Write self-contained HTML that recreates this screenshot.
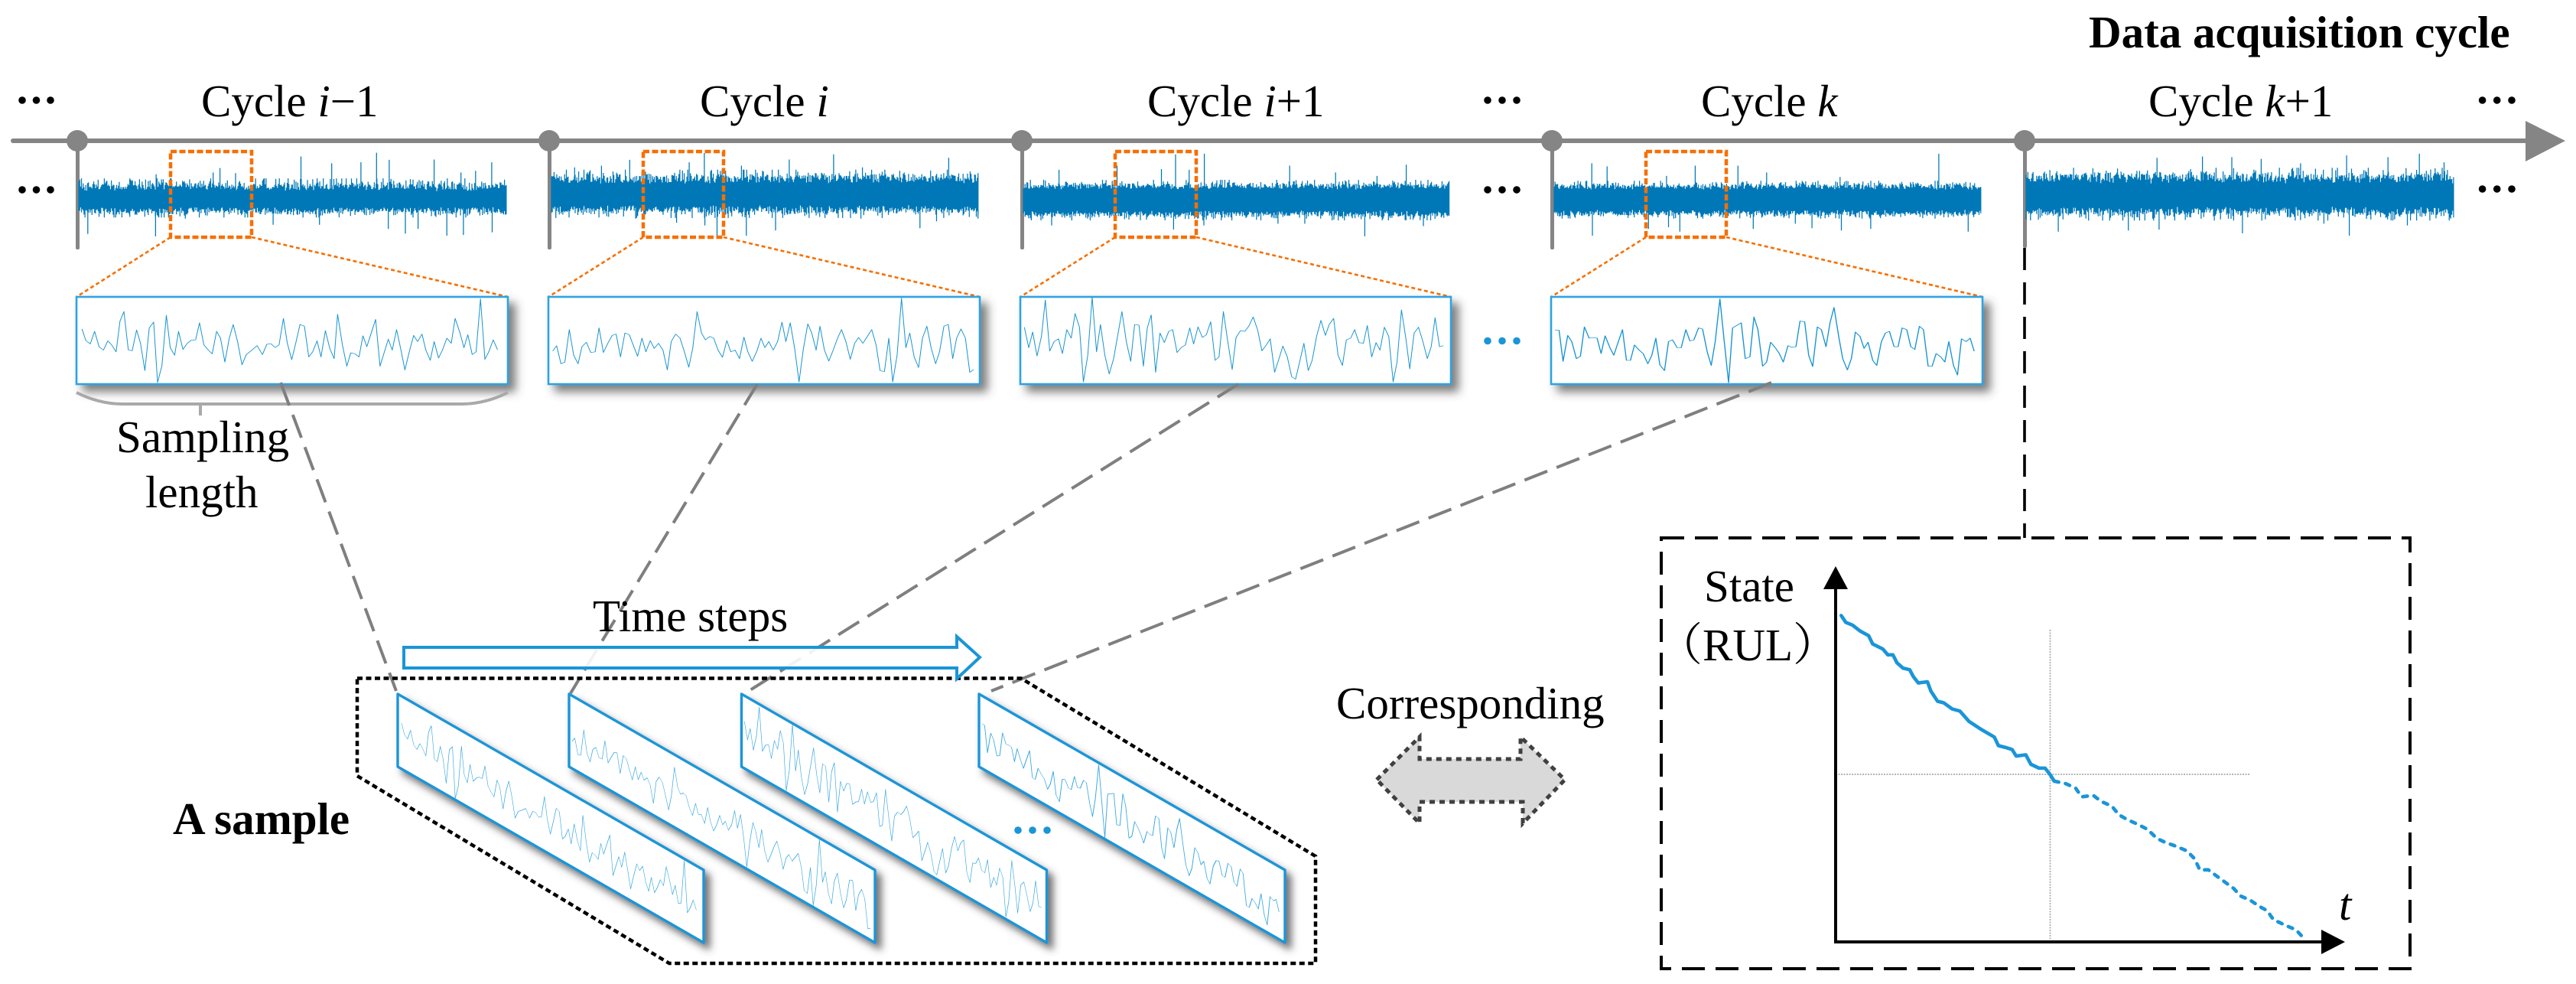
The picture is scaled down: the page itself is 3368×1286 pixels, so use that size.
<!DOCTYPE html>
<html>
<head>
<meta charset="utf-8">
<title>Data acquisition cycle</title>
<style>
html,body{margin:0;padding:0;background:#fff;width:3368px;height:1286px;overflow:hidden}
svg{display:block}
text{font-family:"Liberation Serif","Noto Serif CJK SC",serif;font-size:59px;fill:#000}
.b{font-weight:bold}
.i{font-style:italic}
.tr{fill:none;vector-effect:non-scaling-stroke;stroke:#1a95d3;stroke-width:1.6;stroke-linejoin:round}
.trp{fill:none;vector-effect:non-scaling-stroke;stroke:#3aa8e0;stroke-width:1.5;stroke-linejoin:round}
.or{fill:none;stroke:#f66f00;stroke-width:4.5;stroke-dasharray:8 3.5}
.ot{fill:none;stroke:#f66f00;stroke-width:2.6;stroke-dasharray:5 3.5}
.gd{fill:none;stroke:#7f7f7f;stroke-width:4;stroke-dasharray:32 13}
.bx{fill:#fff;stroke:#2fa3e0;stroke-width:2.6}
.pg{fill:#fff;stroke:#1a95d8;stroke-width:3.4;stroke-linejoin:round}
</style>
</head>
<body>
<svg xmlns="http://www.w3.org/2000/svg" width="3368" height="1286" viewBox="0 0 3368 1286">
<defs>
<filter id="sh" x="-10%" y="-20%" width="125%" height="145%">
<feDropShadow dx="9" dy="9" stdDeviation="6" flood-color="#444" flood-opacity=".7"/>
</filter>
<filter id="shp" x="-10%" y="-10%" width="125%" height="125%">
<feDropShadow dx="7" dy="8" stdDeviation="5" flood-color="#444" flood-opacity=".75"/>
</filter>
<polyline id="t1" points="168,963 176,997 185,1007 194,970 203,1015 212,1025 221,998 229,1010 238,1030 246,940 254,912 263,1024 271,1027 280,966 288,1005 297,1085 306,960 315,943 323,1120 332,1070 341,923 349,1018 358,1040 366,970 375,1023 384,1005 392,996 401,995 409,945 418,1010 427,1025 435,1036 444,970 452,990 461,1060 470,990 478,950 487,1000 496,1068 505,1038 514,1028 527,1012 538,1038 547,1008 555,1006 564,1017 572,1010 581,932 589,1005 598,1053 607,1000 615,950 624,955 633,1045 641,1030 650,998 658,1045 667,968 676,1020 685,1050 692,920 702,1010 711,1072 719,1033 728,1036 736,1045 744,983 752,1015 761,975 770,935 779,1072 788,1030 796,993 804,1025 813,965 822,1025 830,1083 839,1030 848,982 856,1000 865,978 873,1025 882,1055 890,1000 899,1048 907,1025 916,990 925,1005 933,932 943,975 951,1018 959,980 968,1038 976,1030 985,875 994,1052 1002,1030 1011,995 1020,1024"/>
<g id="t2">
<polyline points="1133,1028 1141,1012 1150,1065 1158,1060 1167,965 1176,1040 1185,1065 1193,1015 1202,1002 1211,1032 1220,1030 1228,960 1237,1032 1246,1005 1255,982 1263,978 1272,1045 1281,975 1290,980 1298,1010 1307,1043 1316,990 1324,1030 1333,997 1341,1020 1350,1005 1359,1025 1368,1083 1376,1000 1385,978 1394,990 1403,1030 1412,1075 1420,1020 1429,912 1438,975 1446,995 1455,985 1463,990 1472,1025 1481,1046 1490,997 1498,1030 1507,1025 1516,1050 1525,987 1533,1030 1542,1058 1551,1030 1560,990 1568,1018"/>
<polyline transform="translate(1568,0)" points="0,1018 8,1000 17,1025 26,1000 35,943 43,1000 52,945 61,1020 70,1118 79,1020 88,948 96,975 105,1025 113,955 122,1025 131,1057 140,1025 149,990 157,965 166,1000 175,1052 184,1005 192,988 201,1005 210,985 219,965 228,1010 236,1085 245,1088 254,990 262,1118 271,1040 280,873 289,1018 297,975 306,1045 315,1076 323,990 332,955 341,1020 350,1065 358,1030 367,955 376,950 385,1050 393,990 402,963 411,990 420,1090 428,1082"/>
</g>
<polyline id="t3" points="532,958 541,1018 549,972 558,1042 567,985 575,878 584,1028 593,1000 602,992 610,1035 619,965 628,990 636,918 645,958 653,1118 662,1040 671,870 680,1030 688,950 697,1040 706,1095 715,1050 723,985 732,912 741,1000 750,1058 758,950 767,952 776,1072 784,960 792,922 801,1090 810,975 819,1003 828,970 836,965 845,1032 854,1017 862,1010 871,960 879,1007 888,957 897,988 905,980 914,942 923,1055 931,1045 940,912 949,1000 958,1082 966,988 975,968 984,970 992,955 1001,928 1010,965 1019,1027 1028,1010 1036,992 1045,1090 1054,1050 1062,1013 1071,1045 1080,1103 1088,1110 1097,1055 1105,1005 1114,1085 1122,1055 1131,985 1140,938 1149,982 1157,950 1166,932 1175,1040 1184,1070 1192,995 1201,990 1209,965 1218,1003 1227,1005 1235,953 1244,1045 1253,1003 1261,1025 1270,958 1279,985 1288,1118 1296,1060 1305,907 1314,990 1322,1080 1331,975 1340,958 1349,1000 1358,1050 1366,1015 1374,930 1383,1015 1391,1012"/>
<polyline id="t4" points="38,967 44,967 50,1058 57,982 63,1000 70,1050 76,1043 82,957 89,990 95,988 101,990 107,1035 113,983 120,1017 126,1040 132,1005 139,965 145,1055 151,1055 157,1010 164,1025 170,1035 177,1065 183,1040 189,990 195,1068 202,1085 208,1000 214,995 221,1018 227,1018 234,965 240,998 246,995 253,960 259,963 266,1030 272,1070 278,1000 285,875 291,990 298,1120 304,960 311,952 317,945 323,1050 330,1045 336,928 342,965 349,1072 355,1060 361,1002 368,1018 374,1035 380,1060 387,1012 393,1017 399,1015 405,940 412,942 418,1040 424,1073 431,957 437,965 444,1015 450,945 456,900 463,985 469,1050 476,1083 482,1050 488,972 495,985 501,1020 507,1002 514,1055 520,1070 527,1000 533,975 539,970 546,1015 552,1015 558,960 565,965 571,1015 577,1023 584,955 590,965 597,1072 603,1072 609,1035 616,1045 622,1060 628,1000 635,1070 641,1098 647,992 654,1000 660,990 666,1028"/>
</defs>

<!-- timeline -->
<rect x="14" y="181" width="3292" height="6" rx="3" fill="#858585"/>
<polygon points="3302,158 3354,184 3302,211" fill="#858585"/>
<g fill="#858585">
<circle cx="101" cy="184" r="14"/><rect x="99" y="184" width="5" height="142" rx="2"/>
<circle cx="718" cy="184" r="14"/><rect x="716" y="184" width="5" height="142" rx="2"/>
<circle cx="1336" cy="184" r="14"/><rect x="1334" y="184" width="5" height="142" rx="2"/>
<circle cx="2029" cy="184" r="14"/><rect x="2027" y="184" width="5" height="142" rx="2"/>
<circle cx="2647" cy="184" r="14"/><rect x="2645" y="184" width="5" height="140" rx="2"/>
</g>

<!-- raw signals -->
<g fill="none" stroke="#0078b8" stroke-width="1.25">
<path id="w1"/><path id="w2"/><path id="w3"/><path id="w4"/><path id="w5"/>
</g>

<!-- orange selections -->
<rect class="or" x="223" y="198" width="106" height="112"/>
<rect class="or" x="841" y="198" width="105" height="112"/>
<rect class="or" x="1458" y="198" width="106" height="112"/>
<rect class="or" x="2152" y="198" width="105" height="112"/>
<path class="ot" d="M223 310L100 388M329 310L664 388M841 310L717 388M946 310L1281 388M1458 310L1334 388M1564 310L1897 388M2152 310L2028 388M2257 310L2592 388"/>

<!-- zoomed boxes -->
<g filter="url(#sh)"><rect class="bx" x="100" y="388" width="564" height="114"/></g>
<g filter="url(#sh)"><rect class="bx" x="717" y="388" width="564" height="114"/></g>
<g filter="url(#sh)"><rect class="bx" x="1334" y="388" width="563" height="114"/></g>
<g filter="url(#sh)"><rect class="bx" x="2028" y="388" width="564" height="114"/></g>
<g class="tr">
<use href="#t1" transform="matrix(.6378 0 0 .4464 0 0)"/>
<use href="#t2" transform="matrix(.6378 0 0 .4464 0 0)"/>
<use href="#t3" transform="matrix(.6378 0 0 .4464 1000 0)"/>
<use href="#t4" transform="matrix(.8726 0 0 .4464 2000 0)"/>
</g>

<!-- brace -->
<path d="M100 513Q130 528 160 528H604Q634 528 664 513M262 528V543" fill="none" stroke="#a9a9a9" stroke-width="4"/>

<!-- parallelograms -->
<g filter="url(#shp)"><polygon class="pg" points="520,907 920,1137 920,1232 520,1002"/></g>
<g filter="url(#shp)"><polygon class="pg" points="744,907 1144,1137 1144,1232 744,1002"/></g>
<g filter="url(#shp)"><polygon class="pg" points="969.5,907 1368.5,1137 1368.5,1232 969.5,1002"/></g>
<g filter="url(#shp)"><polygon class="pg" points="1280,907 1680,1137 1680,1232 1280,1002"/></g>
<g class="trp">
<use href="#t1" transform="matrix(.4523 .2601 0 .3704 449.08 544.7)"/>
<use href="#t2" transform="matrix(.4523 .2601 0 .3704 235.5 293.1)"/>
<use href="#t3" transform="matrix(.4523 .2601 0 .3704 732.6 449.3)"/>
<use href="#t4" transform="matrix(.6189 .3558 0 .3704 1260.1 574.1)"/>
</g>

<!-- grey dashed connectors -->
<path class="gd" d="M367 500L518 903"/>
<path class="gd" d="M990 502L746 906"/>
<path class="gd" d="M1619 502L971 908"/>
<path class="gd" d="M2316 500L1296 903"/>

<!-- sample outline -->
<polygon points="467,886.5 1335,886.5 1720,1119 1720,1259 875,1259 467,1014" fill="none" stroke="#000" stroke-width="4.5" stroke-dasharray="7 4.5"/>

<!-- time steps arrow -->
<polygon points="528,846 1251,846 1251,832 1281,859 1251,887 1251,873 528,873" fill="#fff" fill-opacity=".9" stroke="#1a95d8" stroke-width="4"/>

<!-- dots -->
<g fill="#000">
<circle cx="29" cy="131" r="4.8"/><circle cx="47.5" cy="131" r="4.8"/><circle cx="66" cy="131" r="4.8"/>
<circle cx="29" cy="248" r="4.8"/><circle cx="47.5" cy="248" r="4.8"/><circle cx="66" cy="248" r="4.8"/>
<circle cx="1945" cy="131" r="4.8"/><circle cx="1964" cy="131" r="4.8"/><circle cx="1983" cy="131" r="4.8"/>
<circle cx="1945" cy="248" r="4.8"/><circle cx="1964" cy="248" r="4.8"/><circle cx="1983" cy="248" r="4.8"/>
<circle cx="3245.6" cy="131" r="4.8"/><circle cx="3264.7" cy="131" r="4.8"/><circle cx="3284" cy="131" r="4.8"/>
<circle cx="3245.6" cy="247" r="4.8"/><circle cx="3264.7" cy="247" r="4.8"/><circle cx="3284" cy="247" r="4.8"/>
</g>
<g fill="#1a95d8">
<circle cx="1945" cy="445.5" r="4.8"/><circle cx="1964" cy="445.5" r="4.8"/><circle cx="1983" cy="445.5" r="4.8"/>
<circle cx="1331" cy="1085" r="4.8"/><circle cx="1350" cy="1085" r="4.8"/><circle cx="1369" cy="1085" r="4.8"/>
</g>

<!-- corresponding arrow -->
<polygon points="1800,1019 1856,963 1856,992 1988,992 1988,963 2046,1019 1991,1076 1991,1048 1856,1048 1856,1076" fill="#d9d9d9" stroke="#404040" stroke-width="5" stroke-dasharray="7 6"/>

<!-- right panel -->
<path d="M2647 324V703" fill="none" stroke="#000" stroke-width="3.6" stroke-dasharray="29 16"/>
<rect x="2172" y="703" width="979" height="563" fill="#fff" stroke="#000" stroke-width="4" stroke-dasharray="30 14"/>
<path d="M2400 1012H2942M2680.5 823V1231" fill="none" stroke="#b5b5b5" stroke-width="2" stroke-dasharray="2 1.5"/>
<path d="M2400 765V1231H3040" fill="none" stroke="#000" stroke-width="4"/>
<polygon points="2400,740 2384,770 2416,770" fill="#000"/>
<polygon points="3066,1231 3035,1215 3035,1247" fill="#000"/>
<g transform="matrix(.6631 0 0 .3865 2150 680)" fill="none" stroke="#1a95d8" stroke-linecap="round" stroke-linejoin="round">
<polyline vector-effect="non-scaling-stroke" stroke-width="4.6" points="388,322 397,345 410,354 425,374 442,390 450,418 470,435 480,455 490,455 498,482 510,500 523,505 530,528 540,550 558,546 565,578 578,612 590,617 607,638 622,645 640,680 665,708 690,733 698,762 712,768 725,775 733,797 752,793 762,825 778,838 790,838 800,860 808,882"/>
<polyline vector-effect="non-scaling-stroke" stroke-width="4.6" stroke-dasharray="6 9" points="808,882 830,890 850,905 862,935 885,930 900,950 922,967 935,995 950,1010 975,1030 992,1045 1010,1075 1028,1090 1045,1100 1070,1118 1085,1145 1095,1182 1112,1182 1130,1205 1150,1230 1162,1245 1175,1270 1195,1285 1212,1305 1228,1320 1240,1350 1262,1368 1285,1385 1300,1413"/>
</g>

<!-- labels -->
<text x="263" y="152">Cycle <tspan class="i">i</tspan>−1</text>
<text x="915" y="152">Cycle <tspan class="i">i</tspan></text>
<text x="1500" y="152">Cycle <tspan class="i">i</tspan>+1</text>
<text x="2224" y="152">Cycle <tspan class="i">k</tspan></text>
<text x="2809" y="152">Cycle <tspan class="i">k</tspan>+1</text>
<text class="b" x="2731" y="62">Data acquisition cycle</text>
<text x="152" y="591">Sampling</text>
<text x="190" y="663">length</text>
<text x="775" y="825">Time steps</text>
<text class="b" x="226" y="1090">A sample</text>
<text x="1747" y="939">Corresponding</text>
<text x="2228" y="786">State</text>
<text x="2167" y="863">（RUL）</text>
<text class="i" x="3058" y="1202">t</text>
</svg>
<script>
(function(){
var s=12345;
function r(){s=(s*1664525+1013904223)%4294967296;return s/4294967296;}
function W(id,x0,x1,cT,cB,fT,fB,sx,ox,ups,dns){
  var d='',x,u,v,dU=cT-fT,dB=fB-cB;
  for(x=x0;x<=x1;x+=1.15){
    u=cT-Math.min(r()*.7*dU-Math.log(r()+.001)*.25*dU,dU*1.3);
    v=cB+Math.min(r()*.7*dB-Math.log(r()+.001)*.25*dB,dB*1.3);
    d+='M'+x.toFixed(1)+' '+u.toFixed(1)+'V'+v.toFixed(1);
  }
  var i,k=2.24,m=(cT+cB)/2;
  for(i=0;i<ups.length;i+=2){d+='M'+(ox+ups[i]/sx).toFixed(1)+' '+(ups[i+1]/k).toFixed(1)+'V'+m;}
  for(i=0;i<dns.length;i+=2){d+='M'+(ox+dns[i]/sx).toFixed(1)+' '+(dns[i+1]/k).toFixed(1)+'V'+m;}
  document.getElementById(id).setAttribute('d',d);
}
W('w1',103,662,250,270,237,281,1.568,0,
 [617,458,680,478,772,447,798,468,890,467,1008,475,437,505,451,492,483,507,320,510,740,475,975,500,945,505],
 [180,685,319,692,831,684,857,670,916,690,950,688,1009,680,796,670,560,658,655,658,380,640,495,630]);
W('w2',721,1279,240,268,226,281,1.568,0,
 [1233,485,1291,468,1413,475,1444,448,1520,485,1178,490,1618,467,1709,452,1768,490,1945,462,2005,507],
 [1470,692,1530,690,1445,660,1387,652,1303,640,1590,675,1886,668,2005,640,1920,648,1765,640]);
W('w3',1338,1895,248,275,238,285,1.568,1000,
 [842,452,901,450,1076,485,1315,482,603,497,870,497,1170,505,1255,515,813,495,722,485],
 [1230,692,838,672,1350,662,588,660,900,660,1052,655,1107,655,881,640]);
W('w4',2032,2590,248,274,239,283,1.146,2000,
 [613,450,93,478,116,487,248,485,312,485,355,505,205,515,465,518],
 [94,690,225,678,657,678,467,675,423,668,335,670,511,670,398,655,208,665,178,670]);
W('w5',2649,3209,240,270,224,284,1.146,2000,
 [940,462,1008,458,1052,460,1096,465,1224,455,1286,460,1333,450,1370,475,1155,478],
 [1228,690,1068,683,897,675,943,672,1315,660,792,678,1380,640,1190,655]);
})();
</script>
</body>
</html>
